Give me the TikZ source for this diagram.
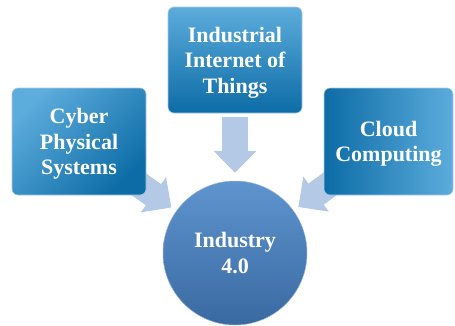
\documentclass[tikz,border=0pt]{standalone}
\usepackage{fontspec}
\setmainfont{Liberation Serif}
\usetikzlibrary{arrows.meta,backgrounds}

\definecolor{boxlight}{HTML}{5CACDC}
\definecolor{boxdark}{HTML}{0D6CA6}
\definecolor{hubtop}{HTML}{5E94CE}
\definecolor{hubbot}{HTML}{3A69A1}
\definecolor{flowblue}{HTML}{B3C9E5}
\definecolor{rimblue}{HTML}{A8CBE8}

\begin{document}
\begin{tikzpicture}[
  x=1pt, y=-1pt,
  font=\fontsize{22}{25.5}\selectfont\bfseries,
  pillar/.style={rectangle, rounded corners=6pt, draw=rimblue, line width=0.6pt,
                 minimum height=107pt, inner sep=2pt, text depth=-2pt,
                 text=white, align=center},
  hub/.style={circle, minimum size=144pt, inner sep=0pt, text=white, align=center,
              top color=hubtop, bottom color=hubbot, draw=hubtop!70!white, line width=0.5pt},
  feed/.style={line width=26pt, draw=flowblue,
               -{Triangle[length=22pt,width=42pt]}}
]
\useasboundingbox (0,0) rectangle (455,325);

\node[pillar, minimum width=134pt, left color=boxlight, right color=boxdark, shading angle=45]
  (cps) at (79,141.5) {Cyber\\Physical\\Systems};
\node[pillar, minimum width=134pt, minimum height=106pt, top color=boxlight, bottom color=boxdark]
  (iiot) at (235,60) {Industrial\\Internet of\\Things};
\node[pillar, minimum width=129pt, left color=boxdark, right color=boxlight]
  (cloud) at (388.5,141.5) {Cloud\\Computing};
\node[hub] (ind) at (235,253) {Industry\\4.0};

\begin{pgfonlayer}{background}
\draw[feed, shorten <=4pt, shorten >=8pt] (iiot) -- (ind);
\draw[feed, shorten >=6pt] (cps.center) -- (ind);
\draw[feed, shorten >=6pt] (cloud.center) -- (ind);
\end{pgfonlayer}
\end{tikzpicture}
\end{document}
